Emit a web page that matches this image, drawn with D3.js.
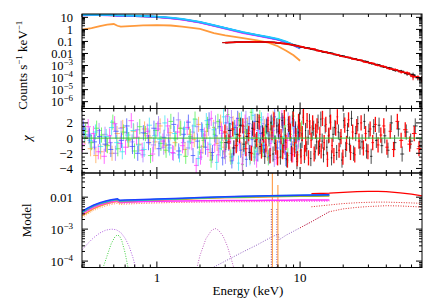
<!DOCTYPE html>
<html><head><meta charset="utf-8">
<script src="https://cdn.jsdelivr.net/npm/d3@7"></script>
<style>
body{margin:0;background:#fff}
svg{display:block}
text{font-family:"Liberation Serif","Times New Roman",serif;font-size:13px;fill:#000}
</style>
</head><body><svg id="c" width="424" height="300"></svg>
<script>
// ---------------- DATA ----------------
const energyTicks = [1, 10];
const energyTickLabels = ["1", "10"];
const countTicks = [10, 1, 0.1, 0.01, 1e-3, 1e-4, 1e-5, 1e-6];
const countTickLabels = [["10",""],["1",""],["0.1",""],["0.01",""],["10","−3"],["10","−4"],["10","−5"],["10","−6"]];
const chiTicks = [2, 0, -2, -4];
const chiTickLabels = ["2", "0", "−2", "−4"];
const modelTicks = [0.01, 1e-3, 1e-4];
const modelTickLabels = [["0.01",""],["10","−3"],["10","−4"]];

// top panel: soft-band spectra (counts s^-1 keV^-1)
const softE = [0.3,0.35,0.4,0.45,0.5,0.53,0.56,0.6,0.7,0.8,1,1.25,1.5,2,2.5,3,4,5,6,7,8,9,10];
const cyanCounts    = [16.5,16.5,16.3,16.0,15.6,14.6,14.4,14.2,13.7,13.0,11.4,9.4,7.4,4.2,2.3,1.36,0.59,0.35,0.235,0.16,0.095,0.053,0.029];
const blueCounts    = [15.8,15.9,15.8,15.5,15.1,14.1,13.9,13.7,13.2,12.6,11.0,9.0,7.1,4.0,2.2,1.3,0.56,0.33,0.22,0.15,0.09,0.05,0.027];
const purpleCounts  = [15.4,15.6,15.5,15.2,14.8,13.8,13.6,13.4,12.9,12.3,10.8,8.8,6.9,3.9,2.1,1.25,0.54,0.32,0.215,0.145,0.088,0.049,0.026];
const greenCounts   = [15.2,15.4,15.4,15.1,14.7,13.7,13.5,13.3,12.8,12.2,10.7,8.7,6.8,3.85,2.1,1.24,0.55,0.33,0.22,0.15,0.09,0.05,0.028];
const magentaCounts = [15.0,15.1,15.1,14.8,14.5,13.5,13.3,13.1,12.6,12.0,10.4,8.4,6.5,3.6,1.95,1.15,0.5,0.3,0.2,0.14,0.085,0.048,0.026];
const orangeCounts  = [0.95,1.3,1.9,2.5,2.8,2.0,1.7,1.8,2.0,2.2,2.3,2.1,1.7,1.1,0.5,0.32,0.19,0.12,0.08,0.04,0.017,0.007,0.0025];

// top panel: hard-band spectra
const hardE = [3,3.3,3.6,4,4.4,4.8,5.3,5.8,6.4,7,7.7,8.5,9.3,10.2,11.2,12.3,13.5,14.8,16.3,17.9,19.7,21.6,23.8,26.1,28.7,31.6,34.7,38.2,42,46.2,50.8,55.9,61.5,66.5,70.5];
const redCounts   = [0.079,0.084,0.086,0.090,0.090,0.094,0.090,0.090,0.083,0.078,0.066,0.057,0.045,0.037,0.027,0.024,0.0165,0.0138,0.0100,0.0083,0.0057,0.0049,0.0034,0.0029,0.0019,0.0016,0.00105,0.00085,0.00055,0.00046,0.00029,0.00025,0.00012,0.00011,0.00008];
const blackCounts = [0.080,0.082,0.088,0.089,0.092,0.092,0.092,0.088,0.085,0.076,0.068,0.055,0.047,0.035,0.029,0.022,0.0175,0.0130,0.0108,0.0078,0.0062,0.0046,0.0037,0.0027,0.0022,0.00145,0.00118,0.00078,0.00063,0.00040,0.00034,0.00021,0.00017,0.000095,0.00009];
const hardRelErr  = [0.02,0.02,0.02,0.02,0.02,0.02,0.02,0.02,0.03,0.03,0.03,0.03,0.04,0.04,0.05,0.05,0.06,0.07,0.08,0.09,0.1,0.11,0.12,0.13,0.15,0.16,0.18,0.2,0.22,0.25,0.28,0.32,0.5,0.4,0.45];

// middle panel: residuals (chi)
const softChiE = [0.31,0.34,0.37,0.40,0.44,0.48,0.52,0.57,0.62,0.68,0.74,0.81,0.88,0.96,
  1.04,1.13,1.22,1.32,1.43,1.55,1.67,1.80,1.93,2.07,
  2.2,2.33,2.46,2.6,2.75,2.9,3.05,3.2,3.36,3.52,3.69,3.87,4.05,4.24,4.44,4.65,4.87,5.1,5.34,5.59,
  5.85,6.12,6.4,6.69,7.0,7.32,7.65,8.0,8.36,8.74,9.13,9.54,9.97];
const blueChi    = [1.2,0.4,-0.5,0.2,-0.8,-1.5,0.9,-0.3,1.6,-1.1,-2.0,0.7,-0.6,1.3, -1.4,0.1,-0.9,1.8,-1.7,0.5,2.1,-2.3,-0.4,1.1, -1.2,2.4,-1.9,0.3,1.5,-2.6,2.0,-0.7,-3.0,1.4, 2.6,-1.6,0.8,-2.8,1.9,-0.2,2.2,-2.1,0.6,-1.0, 1.7,-2.4,0.4,2.8,-1.3,-0.5,2.0,-2.7,1.1,-0.8,1.5,-1.9,0.7];
const cyanChi    = [0.5,-0.3,0.8,-1.1,0.2,1.4,-0.6,-1.8,0.4,1.0,-0.9,-1.5,1.7,0.3, -0.2,2.0,-1.3,0.6,-2.2,1.2,-0.5,1.6,-2.7,0.9, 2.3,-0.8,1.1,-3.2,-1.4,2.8,-0.3,1.9,-2.4,0.7, -3.3,2.5,-1.1,1.3,-2.6,3.0,-1.8,0.4,2.4,-1.3, 0.9,-2.2,1.8,-0.6,2.6,-1.5,0.2,-2.9,1.4,2.1,-0.9,0.6,-1.7];
const magentaChi = [-0.8,1.5,0.6,-1.8,-2.4,0.3,1.9,-0.7,-1.2,2.3,0.1,-1.6,0.9,-2.1, 1.2,-0.4,1.6,-1.9,0.8,-1.0,1.4,-0.6,-3.6,-2.5, 0.4,-1.5,2.6,-0.9,-2.2,1.0,-1.7,2.9,0.2,-2.0, 1.7,-0.5,-3.4,2.1,0.3,-1.9,1.2,-2.9,1.6,0.5, -1.4,2.3,-0.7,1.0,-2.5,0.8,2.7,-1.2,-0.3,1.9,-2.2,0.9,-0.4];
const greenChi   = [0.9,-0.6,1.3,0.4,-1.0,2.1,-1.4,0.8,-0.2,-1.7,1.5,0.6,-2.3,1.0, -0.7,-1.6,2.2,-0.1,1.3,-2.4,0.2,2.5,-1.2,-0.3, 1.8,-2.9,0.5,2.2,-0.6,-1.8,3.1,-2.5,1.1,-0.4, 2.3,-3.5,1.5,0.1,3.4,-2.1,-0.9,2.7,-1.5,0.8, -2.6,1.2,0.3,-1.8,2.5,-0.7,1.6,-2.3,0.5,2.9,-1.1,-0.2,1.3];
const purpleChi  = [1.6,0.2,-1.2,1.0,0.5,-0.6,-2.0,1.3,0.7,-0.5,1.1,-2.2,0.3,-0.9, 1.9,-1.2,0.4,-2.0,2.4,-0.6,-1.3,0.8,1.5,-1.9, -0.1,1.3,-2.3,2.0,-1.0,0.6,-2.4,1.2,2.7,-1.3, -0.8,1.6,-2.2,2.6,-1.4,0.9,-2.5,1.0,-0.6,1.9, -1.6,0.4,2.2,-2.8,1.1,-0.5,1.7,-1.2,2.4,-2.0,0.3,-0.9,1.4];
const orangeChi  = [0.2,-1.4,-2.3,-1.8,-0.9,-2.0,0.6,1.4,-0.3,0.9,-0.8,1.2,0.1,-0.5, 1.6,-1.0,0.7,-0.6,1.3,-1.5,0.5,-0.2,1.8,-1.1, 0.9,-1.9,1.4,-0.7,2.1,-1.2,0.6,-2.1,1.9,-0.8, 2.4,-1.5,0.3,1.7,-2.4,0.8,2.2,-1.3,-0.5,1.5, -2.0,1.1,2.6,-0.9,0.4,-1.7,1.3,-0.3,2.0,-1.4,0.7,-2.2,1.0];
const hardChiE = [3.0,3.2,3.4,3.6,3.8,4.0,4.2,4.4,4.6,4.8,
  5.0,5.2,5.4,5.6,5.8,6.0,6.2,6.4,6.6,6.8,
  7.0,7.2,7.4,7.6,7.8,8.0,8.2,8.4,8.6,8.8,
  9.0,9.2,9.4,9.6,9.8,10.0,10.2,10.4,10.6,10.8,
  11.0,11.25,11.5,11.75,12.0,12.3,12.6,12.9,13.2,13.5,
  13.8,14.1,14.4,14.8,15.2,15.6,16.0,16.4,16.8,17.3,
  17.8,18.3,18.8,19.4,20.0,20.6,21.2,21.9,22.6,23.4,
  24.2,25.0,25.9,26.8,27.8,28.8,29.9,31.0,32.3,33.7,
  35.2,36.8,38.6,40.6,42.8,45.2,48,51,54.5,58.5,63,68];
const redChi = [0.8,-0.5,1.2,-1.0,0.3,1.6,-1.4,0.6,-2.0,1.1,
  -0.2,2.1,-1.7,0.4,-0.9,1.8,-2.3,0.7,2.4,-1.2,
  -2.6,1.5,0.2,-1.8,2.7,-0.6,-2.9,1.9,0.9,-2.2,
  2.5,-1.5,0.3,-2.7,2.2,1.1,-2.4,0.6,2.9,-1.9,
  -0.8,2.3,-2.6,1.4,-0.3,2.0,-2.1,0.9,1.6,-1.3,
  0.5,-1.7,2.6,-0.6,1.8,-2.8,0.4,2.1,-1.0,-2.3,
  1.3,2.8,-1.6,0.2,-2.5,1.7,-0.7,2.4,-1.9,0.8,
  -2.2,1.5,-0.4,2.0,-1.3,0.6,-1.8,1.2,-0.6,1.8,
  -0.9,0.4,1.6,-1.2,0.9,-1.5,2.2,-0.3,1.1,-0.8,0.6,-1.4];
const blackChi = [-0.6,1.0,-1.3,0.5,1.7,-0.8,0.2,-1.9,1.3,-0.4,
  2.2,-1.1,0.7,-2.4,1.5,-0.1,2.0,-2.1,-0.7,1.6,
  0.9,-2.5,2.3,-1.0,0.4,-2.8,1.8,0.6,-2.0,2.6,
  -0.9,1.2,-3.1,0.8,2.4,-1.6,-0.3,2.7,-2.3,1.0,
  -1.4,0.1,2.2,-2.7,0.7,1.3,-1.8,-0.5,2.1,-1.1,
  2.5,-0.4,-2.2,1.6,-1.2,0.3,2.9,-2.6,0.5,1.4,
  -1.9,0.8,-0.2,-2.9,2.3,-1.5,1.0,-0.8,2.6,-2.0,
  0.6,1.9,-1.2,-0.5,2.2,-1.7,0.9,-2.4,1.5,-0.3,
  1.7,-1.0,0.3,-1.6,2.0,-0.6,1.2,-2.1,0.8,-0.4,1.6,-1.1];

// bottom panel: model components
const modelE = [0.3,0.33,0.36,0.4,0.44,0.48,0.52,0.53,0.55,0.6,0.7,0.8,1,1.5,2,3,4,5,6,8,10,13,16];
const blueModel    = [0.0036,0.0046,0.0056,0.0067,0.0076,0.0083,0.0088,0.0089,0.0080,0.0081,0.0083,0.0085,0.0088,0.0093,0.0098,0.0103,0.0106,0.0108,0.0110,0.0112,0.0114,0.0116,0.0118];
const cyanModel    = [0.0034,0.0044,0.0054,0.0064,0.0073,0.0080,0.0085,0.0086,0.0077,0.0078,0.0080,0.0082,0.0085,0.0090,0.0096,0.0101,0.0104,0.0107,0.0110,0.0113,0.0115,0.0117,0.0119];
const greenModel   = [0.0033,0.0043,0.0053,0.0063,0.0071,0.0078,0.0083,0.0084,0.0076,0.0077,0.0079,0.0081,0.0084,0.0089,0.0094,0.0099,0.0102,0.0104,0.0106,0.0108,0.0110,0.0111,0.0112];
const magentaModel = [0.0030,0.0039,0.0048,0.0058,0.0066,0.0072,0.0077,0.0078,0.0070,0.0071,0.0072,0.0073,0.0074,0.0076,0.0077,0.0078,0.0078,0.0079,0.0080,0.0080,0.0081,0.0082,0.0082];
const orangeModel  = [0.0026,0.0034,0.0043,0.0053,0.0061,0.0068,0.0073,0.0074,0.0067,0.0069,0.0072,0.0075,0.0079,0.0085,0.0090,0.0095,0.0098,0.0100,0.0102,0.0104,0.0106,0.0107,0.0108];
const magentaComp  = [0.0027,0.0035,0.0043,0.0052,0.0059,0.0064,0.0068,0.0069,0.0063,0.0064,0.0065,0.0066,0.0067,0.0069,0.0070,0.0071,0.0071,0.0072,0.0072,0.0073,0.0073,0.0074,0.0074];
const orangeComp   = [0.0023,0.0030,0.0038,0.0046,0.0053,0.0059,0.0063,0.0064,0.0059,0.0060,0.0062,0.0064,0.0066,0.0069,0.0071,0.0073,0.0074,0.0075,0.0076,0.0077,0.0078,0.0078,0.0079];
const redModelE = [12,16,20,25,30,35,40,50,60,71];
const redModel  = [0.0128,0.0134,0.0142,0.0149,0.0152,0.0151,0.0148,0.0137,0.0124,0.0110];
const redCompA  = [0.0050,0.0057,0.0063,0.0067,0.0069,0.0070,0.0070,0.0068,0.0066,0.0064];
const reflE   = [2.5,3,4,5,6,6.6,7.05,7.12,8,10,12,16,20,25,30,40,50,60,71];
const reflVal = [6.5e-5,1.0e-4,1.95e-4,3.2e-4,5.0e-4,6.2e-4,7.0e-4,4.6e-4,6.5e-4,1.1e-3,1.7e-3,3.5e-3,4.3e-3,4.8e-3,5.1e-3,5.4e-3,5.3e-3,5.1e-3,4.9e-3];
const bbE     = [0.3,0.33,0.36,0.4,0.44,0.48,0.52,0.56,0.6,0.64,0.68,0.72];
const bbVal   = [2.2e-4,3.6e-4,5.3e-4,7.6e-4,9.3e-4,1.0e-3,9.6e-4,7.8e-4,5.2e-4,2.9e-4,1.3e-4,5e-5];
const gaussE  = [0.42,0.45,0.48,0.51,0.53,0.55,0.57,0.6,0.63];
const gaussVal= [6e-5,1.5e-4,3.5e-4,5.8e-4,6.6e-4,6e-4,4.2e-4,1.8e-4,6e-5];
const bb2E    = [1.9,2.0,2.2,2.4,2.55,2.7,2.9,3.1,3.3,3.45];
const bb2Val  = [6e-5,1.5e-4,5e-4,9e-4,1.05e-3,9.2e-4,6e-4,3e-4,1.2e-4,6e-5];
const feLineE      = [6.4, 7.0];
const feLineTotal  = [0.09, 0.024];
const feLineComp   = [4.6e-3, 4.6e-3];

// ---------------- DRAWING ----------------
const svg = d3.select("#c");
const L = 82, R = 422;
const P1 = [14, 108.5], P2 = [108.5, 173], P3 = [173, 267.5];
const x  = d3.scaleLog().domain([0.3, 71]).range([L, R]);
const yC = d3.scaleLog().domain([2.7e-7, 19]).range([P1[1], P1[0]]);
const yX = d3.scaleLinear().domain([-4.6, 3.9]).range([P2[1], P2[0]]);
const yM = d3.scaleLog().domain([6.3e-5, 0.057]).range([P3[1], P3[0]]);

const defs = svg.append("defs");
[P1, P2, P3].forEach((p, i) => {
  defs.append("clipPath").attr("id", "clip" + i)
    .append("rect").attr("x", L).attr("y", p[0]).attr("width", R - L).attr("height", p[1] - p[0]);
});
const g1 = svg.append("g").attr("clip-path", "url(#clip0)");
const g2 = svg.append("g").attr("clip-path", "url(#clip1)");
const g3 = svg.append("g").attr("clip-path", "url(#clip2)");

function pts(E, V) { return E.map((e, i) => [e, V[i]]).filter(d => d[1] !== undefined); }
function drawLine(g, E, V, ys, color, w, dash, op) {
  g.append("path").datum(pts(E, V))
    .attr("d", d3.line().x(d => x(d[0])).y(d => ys(d[1])))
    .attr("fill", "none").attr("stroke", color).attr("stroke-width", w)
    .attr("stroke-dasharray", dash || null).attr("opacity", op || 1);
}
function binEdges(E, i) {
  const lo = i > 0 ? Math.sqrt(E[i - 1] * E[i]) : E[i] / Math.sqrt(E[i + 1] / E[i]);
  const hi = i < E.length - 1 ? Math.sqrt(E[i] * E[i + 1]) : E[i] * Math.sqrt(E[i] / E[i - 1]);
  return [lo, hi];
}

// ---- top panel ----
const softSeries = [
  [orangeCounts, "#ff9a3c"], [greenCounts, "#40e060"], [purpleCounts, "#9040ff"],
  [magentaCounts, "#ff30ff"], [blueCounts, "#3060ff"], [cyanCounts, "#20c8ff"]
];
softSeries.forEach(s => drawLine(g1, softE, s[0], yC, s[1], 1.8));
function hardSpec(V, color, op) {
  const d = pts(hardE, V);
  d.forEach((p, i) => {
    const [lo, hi] = binEdges(hardE, i);
    const e = hardRelErr[i];
    g1.append("line").attr("x1", x(lo)).attr("x2", x(hi)).attr("y1", yC(p[1])).attr("y2", yC(p[1]))
      .attr("stroke", color).attr("stroke-width", 1).attr("opacity", op);
    g1.append("line").attr("x1", x(p[0])).attr("x2", x(p[0])).attr("y1", yC(p[1] * (1 - e))).attr("y2", yC(p[1] * (1 + e)))
      .attr("stroke", color).attr("stroke-width", 1).attr("opacity", op);
  });
  drawLine(g1, hardE, V, yC, color, 1.6, null, op);
}
hardSpec(blackCounts, "#000", 0.85);
hardSpec(redCounts, "#ff0000", 0.9);

// ---- middle panel ----
function chiSeries(E, V, color, op, shift, w) {
  V.forEach((c, i) => {
    if (E[i] === undefined) return;
    const [lo, hi] = binEdges(E, i);
    const xc = x(E[i]) + shift;
    g2.append("line").attr("x1", x(lo) + shift).attr("x2", x(hi) + shift).attr("y1", yX(c)).attr("y2", yX(c))
      .attr("stroke", color).attr("stroke-width", 1).attr("opacity", op);
    g2.append("line").attr("x1", xc).attr("x2", xc).attr("y1", yX(c - 1)).attr("y2", yX(c + 1))
      .attr("stroke", color).attr("stroke-width", w || 1).attr("opacity", op);
  });
}
chiSeries(softChiE, orangeChi, "#ffa040", 0.7, 0.8);
chiSeries(softChiE, purpleChi, "#a070ff", 0.7, -0.8);
chiSeries(softChiE, greenChi, "#40f040", 0.7, 1.6);
chiSeries(softChiE, magentaChi, "#ff30ff", 0.7, -1.6);
chiSeries(softChiE, cyanChi, "#30e0f0", 0.7, 0.4);
chiSeries(softChiE, blueChi, "#4050ff", 0.75, -0.4);
chiSeries(hardChiE, blackChi, "#000", 0.7, 0.7, 1);
chiSeries(hardChiE, redChi, "#ff0000", 0.95, -0.3, 1.3);
g2.append("line").attr("x1", L).attr("x2", R).attr("y1", yX(0)).attr("y2", yX(0))
  .attr("stroke", "#30c030").attr("stroke-width", 1);

// ---- bottom panel ----
drawLine(g3, bbE, bbVal, yM, "#b060e0", 1, "1,1.5");
drawLine(g3, gaussE, gaussVal, yM, "#40d040", 1, "1,1.5");
drawLine(g3, bb2E, bb2Val, yM, "#c060c0", 1, "1,1.5");
drawLine(g3, reflE.slice(0, 12), reflVal.slice(0, 12), yM, "#9060c0", 1, "1,1.5");
drawLine(g3, reflE.slice(9), reflVal.slice(9), yM, "#e03030", 1, "1,1.5");
drawLine(g3, redModelE, redCompA, yM, "#e03030", 1, "1,1.5");
feLineE.forEach((e, i) => {
  g3.append("line").attr("x1", x(e) - 1).attr("x2", x(e) - 1).attr("y1", yM(6.3e-5)).attr("y2", yM(feLineComp[i]))
    .attr("stroke", "#8040a0").attr("stroke-width", 1).attr("stroke-dasharray", "1,1.5");
  g3.append("line").attr("x1", x(e)).attr("x2", x(e)).attr("y1", yM(6.3e-5)).attr("y2", yM(feLineTotal[i]))
    .attr("stroke", "#ff9030").attr("stroke-width", 1);
});
drawLine(g3, modelE, magentaComp, yM, "#ff40ff", 1, "1,1.5");
drawLine(g3, modelE, orangeComp, yM, "#ffa050", 1, "1,1.5");
drawLine(g3, redModelE, redModel, yM, "#ff0000", 1.3);
drawLine(g3, modelE, orangeModel, yM, "#ff9a3c", 1.5);
drawLine(g3, modelE, magentaModel, yM, "#ff30ff", 1.5);
drawLine(g3, modelE, greenModel, yM, "#30d030", 1.5);
drawLine(g3, modelE, cyanModel, yM, "#20c0e0", 1.5);
drawLine(g3, modelE, blueModel, yM, "#2040ff", 1.5);

// ---- frames and ticks ----
const ax = svg.append("g");
function xTicks(p) {
  for (let d = -1; d <= 1; d++) for (let m = 1; m <= 9; m++) {
    const v = m * Math.pow(10, d);
    if (v < 0.3 || v > 71) continue;
    const len = m === 1 ? 6 : 3;
    ax.append("line").attr("x1", x(v)).attr("x2", x(v)).attr("y1", p[1]).attr("y2", p[1] - len).attr("stroke", "#000");
    ax.append("line").attr("x1", x(v)).attr("x2", x(v)).attr("y1", p[0]).attr("y2", p[0] + len).attr("stroke", "#000");
  }
}
function yLogTicks(ys, d0, d1) {
  const [lo, hi] = ys.domain();
  for (let d = d0; d <= d1; d++) for (let m = 1; m <= 9; m++) {
    const v = m * Math.pow(10, d);
    if (v < lo || v > hi) continue;
    const len = m === 1 ? 6 : 3;
    ax.append("line").attr("x1", L).attr("x2", L + len).attr("y1", ys(v)).attr("y2", ys(v)).attr("stroke", "#000");
    ax.append("line").attr("x1", R).attr("x2", R - len).attr("y1", ys(v)).attr("y2", ys(v)).attr("stroke", "#000");
  }
}
[P1, P2, P3].forEach(p => {
  ax.append("rect").attr("x", L).attr("y", p[0]).attr("width", R - L).attr("height", p[1] - p[0])
    .attr("fill", "none").attr("stroke", "#000").attr("stroke-width", 1);
  xTicks(p);
});
yLogTicks(yC, -7, 1);
yLogTicks(yM, -5, -2);
for (let v = -4.5; v <= 3.5; v += 0.5) {
  const len = Math.abs(v % 2) < 1e-9 ? 6 : 3;
  ax.append("line").attr("x1", L).attr("x2", L + len).attr("y1", yX(v)).attr("y2", yX(v)).attr("stroke", "#000");
  ax.append("line").attr("x1", R).attr("x2", R - len).attr("y1", yX(v)).attr("y2", yX(v)).attr("stroke", "#000");
}

// tick labels
function supLabel(xp, yp, base, sup, fs) {
  const t = svg.append("text").attr("x", xp).attr("y", yp).attr("text-anchor", "end").style("font-size", fs + "px");
  t.append("tspan").text(base);
  if (sup) t.append("tspan").attr("dy", -5).style("font-size", "9px").text(sup);
  return t;
}
countTicks.forEach((v, i) => supLabel(73, yC(v) + 4.3, countTickLabels[i][0], countTickLabels[i][1], 12.5));
modelTicks.forEach((v, i) => supLabel(73, yM(v) + 4.5, modelTickLabels[i][0], modelTickLabels[i][1], 13));
chiTicks.forEach((v, i) => svg.append("text").attr("x", 73).attr("y", yX(v) + 4.5).attr("text-anchor", "end").text(chiTickLabels[i]));
energyTicks.forEach((v, i) => svg.append("text").attr("x", x(v)).attr("y", 282).attr("text-anchor", "middle").text(energyTickLabels[i]));

// axis titles
svg.append("text").attr("x", 248).attr("y", 295).attr("text-anchor", "middle").text("Energy (keV)");
const yt = svg.append("text").attr("transform", "translate(27," + ((P1[0] + P1[1]) / 2 + 4) + ") rotate(-90)").attr("text-anchor", "middle");
yt.append("tspan").text("Counts s");
yt.append("tspan").attr("dy", -5).style("font-size", "9px").text("−1");
yt.append("tspan").attr("dy", 5).text(" keV");
yt.append("tspan").attr("dy", -5).style("font-size", "9px").text("−1");
svg.append("text").attr("transform", "translate(31," + yX(0) + ") rotate(-90)").attr("text-anchor", "middle").style("font-style", "italic").text("χ");
svg.append("text").attr("transform", "translate(31," + ((P3[0] + P3[1]) / 2) + ") rotate(-90)").attr("text-anchor", "middle").text("Model");
</script>
</body></html>
